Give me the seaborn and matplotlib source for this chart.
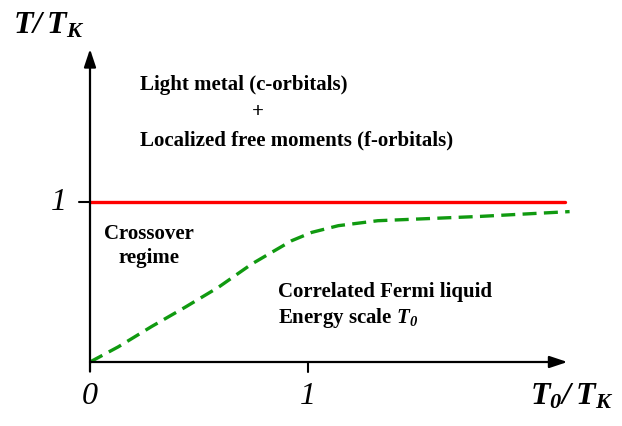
import matplotlib
matplotlib.use("Agg")
import matplotlib.pyplot as plt
import seaborn as sns
import pandas as pd

# schematic crossover curve (T0/TK, T/TK)
cross_x = [0.0, 0.13, 0.283, 0.436, 0.589, 0.742, 0.833, 0.925, 1.017, 1.139, 1.32, 1.79, 2.2]
cross_y = [0.0, 0.095, 0.222, 0.342, 0.467, 0.6125, 0.685, 0.758, 0.81, 0.852, 0.883, 0.91, 0.94]
# Kondo line T = TK
kondo_x = [0.0, 2.18]
kondo_y = [1.0, 1.0]

x_ticks = [0, 1]
y_ticks = [1]

sns.set_theme(style="white")
plt.rcParams['font.family'] = ['Liberation Serif', 'DejaVu Serif']
plt.rcParams['text.color'] = 'black'
plt.rcParams['mathtext.fontset'] = 'custom'
plt.rcParams['mathtext.rm'] = 'Liberation Serif'
plt.rcParams['mathtext.it'] = 'Liberation Serif:italic'
plt.rcParams['mathtext.bf'] = 'Liberation Serif:bold'
plt.rcParams['mathtext.bfit'] = 'Liberation Serif:italic:bold'

fig = plt.figure(figsize=(6.22, 4.27), dpi=100)
ax = fig.add_axes([0, 0, 1, 1])
ax.set_xlim(-90 / 218, 532 / 218)
ax.set_ylim(-64 / 160, 363 / 160)
ax.axis('off')

df_k = pd.DataFrame({'x': kondo_x, 'y': kondo_y})
df_c = pd.DataFrame({'x': cross_x, 'y': cross_y})
sns.lineplot(data=df_k, x='x', y='y', color='#ff0000', lw=2.4, ax=ax)
sns.lineplot(data=df_c, x='x', y='y', color='#109a10', lw=2.4, ax=ax,
             linestyle=(0, (4.2, 2.2)))

# axes with arrows
arrow = dict(arrowstyle='-|>,head_length=0.9,head_width=0.3', color='black', lw=1.6,
             shrinkA=0, shrinkB=0)
ax.annotate('', xy=(0, 1.956), xytext=(0, -0.06), arrowprops=arrow)
ax.annotate('', xy=(2.19, 0), xytext=(0, 0), arrowprops=arrow)

# tick marks
ax.plot([1, 1], [0, -0.06], color='black', lw=1.5)
ax.plot([-0.05, 0], [1, 1], color='black', lw=1.5)

tick_fs = 23
for t in x_ticks:
    ax.text(t, -0.21, str(t), fontsize=tick_fs, style='italic', ha='center', va='center')
for t in y_ticks:
    ax.text(-0.145, t, str(t), fontsize=tick_fs, style='italic', ha='center', va='center')

ax.text(-0.353, 2.06, r'$\mathbfit{T}\mathbfit{/}\:\mathbfit{T}_{\mathbfit{K}}$', fontsize=23,
        ha='left', va='baseline')
ax.text(2.018, -0.262, r'$\mathbfit{T}_{\mathbfit{0}}\mathbfit{/}\:\mathbfit{T}_{\mathbfit{K}}$',
        fontsize=23, ha='left', va='baseline')

fs = 15
ax.text(0.23, 1.74, 'Light metal (c-orbitals)', fontsize=fs, weight='bold', ha='left', va='center')
ax.text(0.77, 1.57, '+', fontsize=fs, weight='bold', ha='center', va='center')
ax.text(0.23, 1.39, 'Localized free moments (f-orbitals)', fontsize=fs, weight='bold',
        ha='left', va='center')
ax.text(0.27, 0.73, 'Crossover\nregime', fontsize=fs, weight='bold', ha='center', va='center',
        linespacing=1.25)
ax.text(0.862, 0.356, 'Correlated Fermi liquid\nEnergy scale $\\mathbfit{T}_{\\mathbfit{0}}$',
        fontsize=fs, weight='bold', ha='left', va='center', linespacing=1.25)

fig.savefig('out.png', dpi=100)
